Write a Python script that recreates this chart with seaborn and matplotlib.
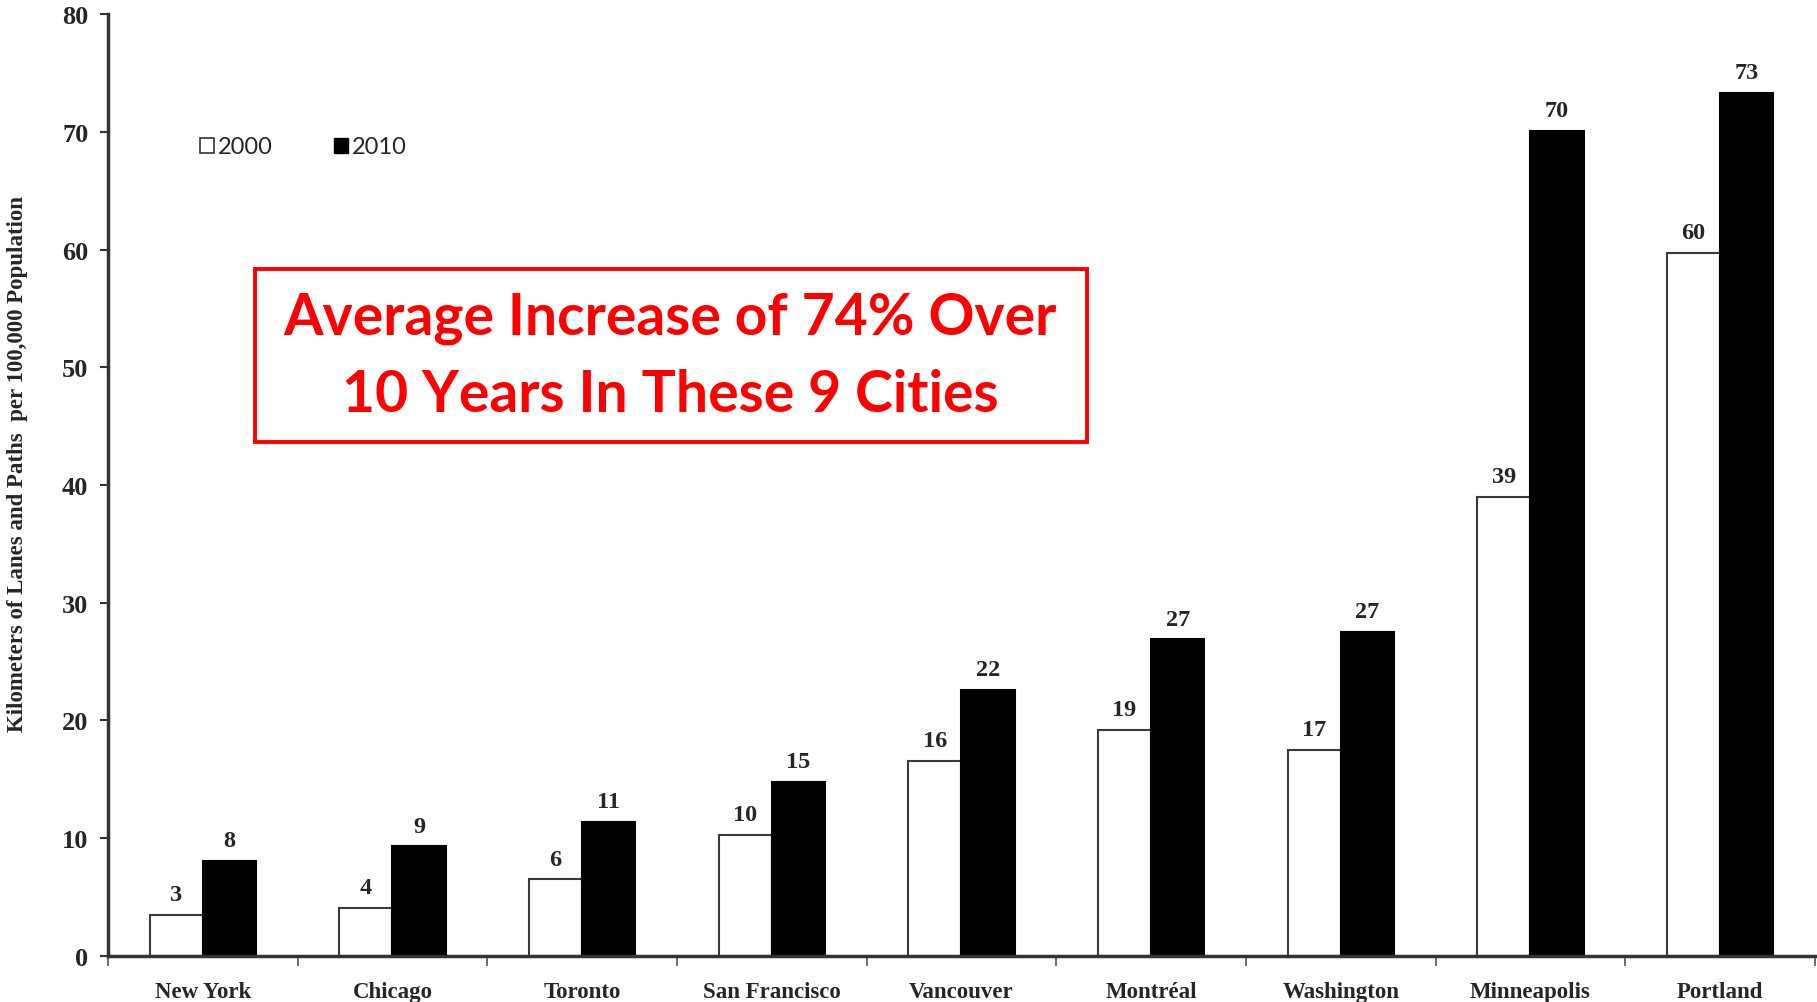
import numpy as np
import pandas as pd
import matplotlib
matplotlib.use('Agg')
import matplotlib.pyplot as plt
import matplotlib.patches as mpatches
import seaborn as sns

# values
cities = ['New York', 'Chicago', 'Toronto', 'San Francisco', 'Vancouver',
          'Montréal', 'Washington', 'Minneapolis', 'Portland']
km_2000 = [3.5, 4.1, 6.5, 10.3, 16.6, 19.2, 17.5, 39.0, 59.7]
km_2010 = [8.1, 9.3, 11.4, 14.8, 22.6, 26.9, 27.5, 70.1, 73.3]
labels_2000 = ['3', '4', '6', '10', '16', '19', '17', '39', '60']
labels_2010 = ['8', '9', '11', '15', '22', '27', '27', '70', '73']
years = ['2000', '2010']
y_ticks = [0, 10, 20, 30, 40, 50, 60, 70, 80]
note_lines = ['Average Increase of 74% Over', '10 Years In These 9 Cities']
y_label = 'Kilometers of Lanes and Paths  per 100,000 Population'

df = pd.DataFrame({
    'city': cities * 2,
    'year': [years[0]] * len(cities) + [years[1]] * len(cities),
    'km': km_2000 + km_2010,
})

sns.set_theme(style='white')
plt.rcParams['font.family'] = ['Liberation Serif', 'DejaVu Serif']

fig = plt.figure(figsize=(18.17, 10.03), dpi=100)
ax = fig.add_axes([0.0594, 0.0459, 0.9395, 0.9391])

sns.barplot(data=df, x='city', y='km', hue='year', order=cities, hue_order=years,
            palette={'2000': 'white', '2010': 'black'}, width=0.56, gap=0,
            saturation=1, edgecolor='#3a3a3a', linewidth=1.5, legend=False, ax=ax)

# black bars get a black outline
for bar in ax.containers[1]:
    bar.set_edgecolor('black')

ax.bar_label(ax.containers[0], labels=labels_2000, padding=7, fontsize=17.5,
             fontweight='bold')
ax.bar_label(ax.containers[1], labels=labels_2010, padding=7, fontsize=17.5,
             fontweight='bold')

ax.set_xlim(-0.5, len(cities) - 0.5)
ax.set_ylim(0, 80)
ax.set_yticks(y_ticks)
ax.set_xlabel('')
ax.set_ylabel(y_label, fontsize=16.5, fontweight='bold')
ax.yaxis.set_label_coords(-0.047, 0.523)

sns.despine(ax=ax)
for side in ['left', 'bottom']:
    ax.spines[side].set_color('#333333')
    ax.spines[side].set_linewidth(2.5)

# city names centred, small tick marks between groups
ax.set_xticks(range(len(cities)))
ax.set_xticklabels(cities, fontsize=16.5, fontweight='bold')
ax.set_xticks(np.arange(-0.5, len(cities), 1), minor=True)
ax.tick_params(axis='x', which='major', length=0, pad=18)
ax.tick_params(axis='x', which='minor', direction='out', length=7, width=1.2,
               color='#555555', bottom=True)
ax.tick_params(axis='y', direction='out', length=6, width=1.5, color='#333333',
               labelsize=19, pad=8, left=True)
for lab in ax.get_yticklabels():
    lab.set_fontweight('bold')

handles = [mpatches.Patch(facecolor='white', edgecolor='#333333', linewidth=1.2),
           mpatches.Patch(facecolor='black', edgecolor='black')]
ax.legend(handles, years, loc='center left', bbox_to_anchor=(0.054, 0.859),
          ncol=2, frameon=False, handlelength=0.6, handleheight=0.6,
          handletextpad=0.15, columnspacing=2.6, borderpad=0, borderaxespad=0,
          prop={'family': ['Lato', 'DejaVu Sans'], 'size': 17})

# red annotation box
box = mpatches.Rectangle((0.1403, 0.5583), 0.4579, 0.1725, transform=fig.transFigure,
                         facecolor='white', edgecolor='#ff0000', linewidth=2.8,
                         zorder=5)
fig.patches.append(box)
for line, ypos in zip(note_lines, [0.682, 0.606]):
    fig.text(0.369, ypos, line, ha='center', va='center', color='#ff0000',
             fontsize=41, fontweight='bold', family=['Lato', 'DejaVu Sans'],
             zorder=6)

fig.savefig('out.png', dpi=100)
